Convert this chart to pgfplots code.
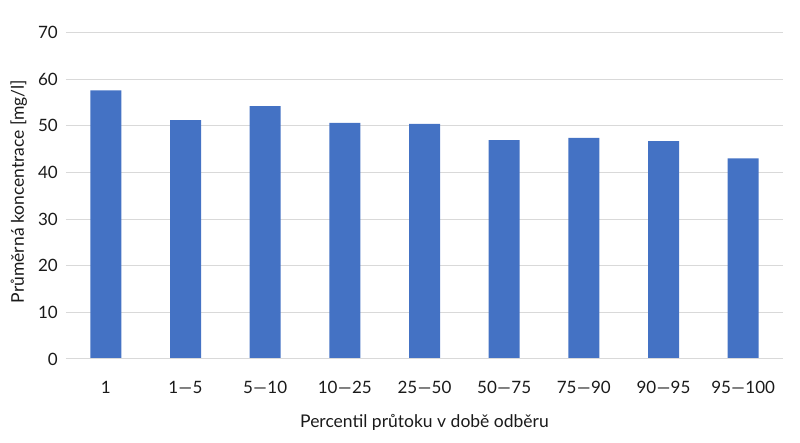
\documentclass[border=0pt]{standalone}
\usepackage{fontspec}
\setmainfont{Lato}
\usepackage{pgfplots}
\pgfplotsset{compat=1.18}
\definecolor{barblue}{HTML}{4472C4}
\definecolor{gridgray}{HTML}{D9D9D9}
\definecolor{txt}{HTML}{1A1A1A}
\newcommand{\rng}[2]{#1\hspace{0.5pt}\textemdash\hspace{0.5pt}#2}
\begin{document}
\begin{tikzpicture}
\path[use as bounding box] (0,0) rectangle (800pt,443pt);
\begin{axis}[
  at={(66pt,84pt)}, anchor=south west,
  scale only axis,
  width=717pt, height=326.5pt,
  ymin=0, ymax=70,
  ytick={0,10,...,70},
  xmin=-0.5, xmax=8.5,
  xtick={0,...,8},
  xticklabels={1,\rng{1}{5},\rng{5}{10},\rng{10}{25},\rng{25}{50},\rng{50}{75},\rng{75}{90},\rng{90}{95},\rng{95}{100}},
  axis line style={draw=none},
  axis x line*=bottom,
  axis y line*=left,
  major tick length=0pt,
  ymajorgrids,
  grid style={gridgray, line width=1pt},
  ticklabel style={font=\fontsize{17}{20}\selectfont, text=txt, inner sep=0pt},
  /pgf/number format/assume math mode=true,
  yticklabel style={anchor=east, xshift=-8pt},
  xticklabel style={anchor=base, yshift=-35pt},
  xlabel={Percentil průtoku v době odběru},
  ylabel={Průměrná koncentrace [mg/l]},
  label style={font=\fontsize{17.5}{20}\selectfont, text=txt, inner sep=0pt},
  xlabel style={at={(axis description cs:0.5,-0.2083)}, anchor=base},
  ylabel style={at={(axis description cs:-0.0586,0.513)}, anchor=base, rotate=0},
  clip=false,
]
\addplot[ybar, bar width=31pt, fill=barblue, draw=none] coordinates {
  (0,57.6) (1,51.2) (2,54.2) (3,50.6) (4,50.4) (5,46.9) (6,47.4) (7,46.7) (8,43.0)
};
\draw[gridgray, line width=1pt] (axis cs:-0.5,0) -- (axis cs:8.5,0);
\end{axis}
\end{tikzpicture}
\end{document}
